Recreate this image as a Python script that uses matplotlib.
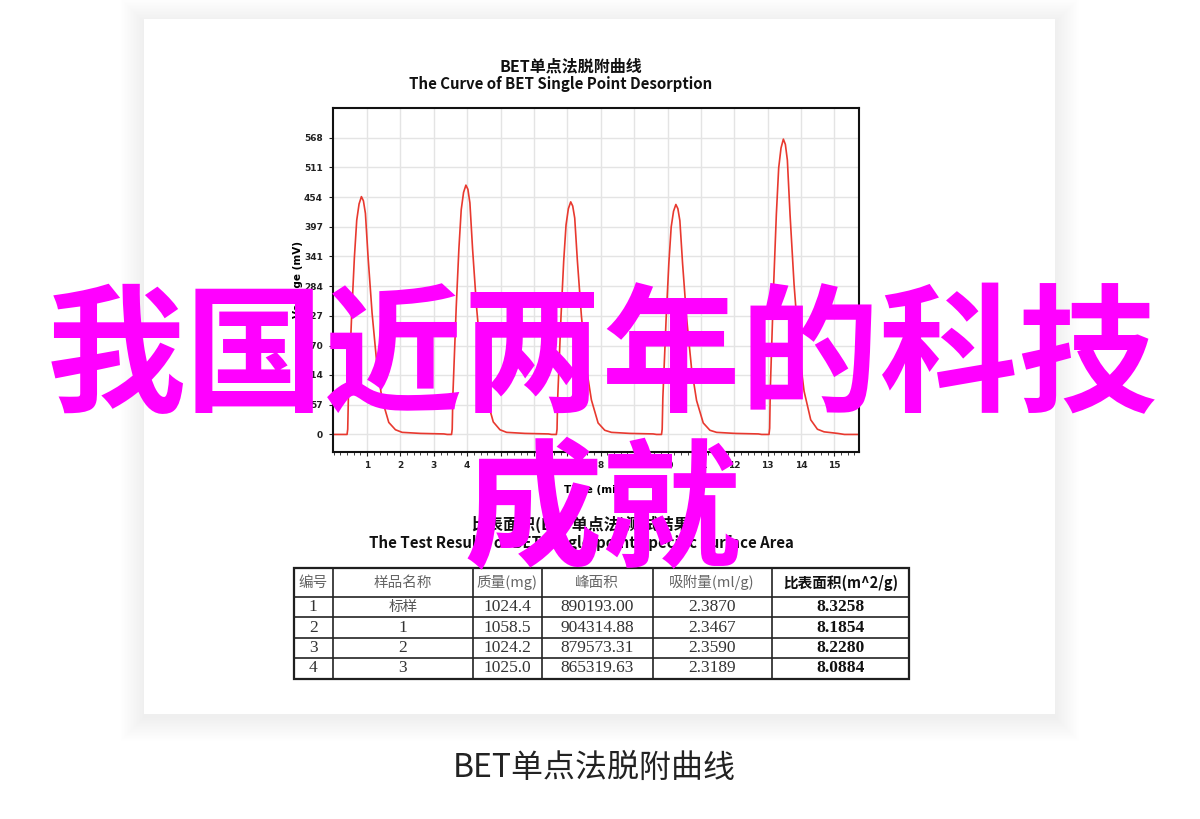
import matplotlib.pyplot as plt
from matplotlib.patches import Rectangle
from matplotlib.ticker import MultipleLocator

plt.rcParams['font.family'] = ['Noto Sans CJK SC', 'DejaVu Sans']

# BET desorption trace (time in min, signal in mV)
time_min = [
    -0.03, 0.40, 0.42, 0.44, 0.54, 0.62, 0.69, 0.76, 0.83, 0.89, 0.95, 1.03, 1.15, 1.30, 1.45, 1.65, 1.85, 2.05, 2.60, 3.30, 3.40,
    3.53, 3.55, 3.57, 3.67, 3.75, 3.82, 3.89, 3.96, 4.02, 4.08, 4.16, 4.28, 4.43, 4.58, 4.78, 4.98, 5.18, 5.73, 6.43, 6.53,
    6.67, 6.69, 6.71, 6.81, 6.89, 6.96, 7.03, 7.10, 7.16, 7.22, 7.30, 7.42, 7.57, 7.72, 7.92, 8.12, 8.32, 8.87, 9.57, 9.67,
    9.82, 9.84, 9.86, 9.96, 10.04, 10.11, 10.18, 10.25, 10.31, 10.37, 10.45, 10.57, 10.72, 10.87, 11.07, 11.27, 11.47, 12.02,
    12.72, 12.82,
    13.04, 13.06, 13.08, 13.18, 13.26, 13.33, 13.40, 13.47, 13.53, 13.59, 13.67, 13.79, 13.94, 14.09, 14.29, 14.49, 14.69,
    15.10, 15.30, 15.73,
]
voltage_mv = [
    0, 0, 10, 72, 232, 339, 410, 441, 455, 447, 423, 339, 232, 130, 67, 23, 9, 4, 2, 1, 0,
    0, 10, 75, 243, 355, 430, 463, 477, 469, 443, 355, 243, 136, 70, 24, 9, 4, 2, 1, 0,
    0, 10, 70, 227, 332, 401, 432, 445, 437, 414, 332, 227, 127, 66, 22, 8, 4, 2, 1, 0,
    0, 10, 70, 224, 328, 397, 427, 440, 432, 409, 328, 224, 126, 65, 22, 8, 4, 2,
    1, 0,
    0, 12, 89, 288, 421, 510, 548, 565, 555, 525, 421, 288, 161, 83, 28, 10, 5,
    2, 0, 0,
]
y_ticks = [0, 57, 114, 170, 227, 284, 341, 397, 454, 511, 568]
x_ticks = list(range(1, 16))

table_header = ['编号', '样品名称', '质量(mg)', '峰面积', '吸附量(ml/g)', '比表面积(m^2/g)']
sample_no = ['1', '2', '3', '4']
sample_name = ['标样', '1', '2', '3']
mass_mg = ['1024.4', '1058.5', '1024.2', '1025.0']
peak_area = ['890193.00', '904314.88', '879573.31', '865319.63']
adsorption = ['2.3870', '2.3467', '2.3590', '2.3189']
surface_area = ['8.3258', '8.1854', '8.2280', '8.0884']

W, H = 1200, 819
fig = plt.figure(figsize=(12, 8.19), dpi=100)

# background layer in pixel coordinates
bg = fig.add_axes([0, 0, 1, 1], zorder=0)
bg.set_xlim(0, W)
bg.set_ylim(H, 0)
bg.axis('off')

# soft shadow around the white card
for i in range(16):
    pad = 1 + i * 1.5
    bg.add_patch(Rectangle((144 - pad, 19 - pad + 3), 911 + 2 * pad, 695 + 2 * pad,
                           facecolor='black', alpha=0.004, lw=0))
bg.add_patch(Rectangle((144, 19), 911, 695, facecolor='white', lw=0))
bg.add_patch(Rectangle((417, 742), 346, 54, facecolor='white', lw=0))
bg.text(594, 768, 'BET单点法脱附曲线', fontsize=23, color='#222222', ha='center', va='center')

# chart titles
bg.text(571, 66, 'BET单点法脱附曲线', fontsize=11.5, fontweight='bold', ha='center', va='center', color='#111111')
bg.text(561, 84, 'The Curve of BET Single Point Desorption', fontsize=10.8, fontweight='bold',
        ha='center', va='center', color='#111111')
bg.text(580, 524, '比表面积(BET单点法)测试结果', fontsize=11.5, fontweight='bold', ha='center', va='center',
        color='#111111')
bg.text(581, 543, 'The Test Results of BET Single-point Specific Surface Area', fontsize=10.8, fontweight='bold',
        ha='center', va='center', color='#111111')

# results table
col_x = [294, 332.5, 473, 541.6, 652.5, 771.7, 909]
row_y = [568, 597, 617, 638, 658, 679]
for y in row_y:
    bg.plot([col_x[0], col_x[-1]], [y, y], color='#222222', lw=1.2)
for x in col_x:
    bg.plot([x, x], [row_y[0], row_y[-1]], color='#222222', lw=1.2)
bg.add_patch(Rectangle((col_x[0], row_y[0]), col_x[-1] - col_x[0], row_y[-1] - row_y[0],
                       fill=False, edgecolor='#111111', lw=1.6))

for j, label in enumerate(table_header):
    cx = (col_x[j] + col_x[j + 1]) / 2
    cy = (row_y[0] + row_y[1]) / 2
    if j == 5:
        bg.text(cx, cy, label, fontsize=10.5, fontweight='bold', color='#111111', ha='center', va='center')
    else:
        bg.text(cx, cy, label, fontsize=10.5, color='#666666', ha='center', va='center')

columns = [sample_no, sample_name, mass_mg, peak_area, adsorption, surface_area]
for j, col in enumerate(columns):
    cx = (col_x[j] + col_x[j + 1]) / 2
    for i, val in enumerate(col):
        cy = (row_y[i + 1] + row_y[i + 2]) / 2
        if j == 1 and i == 0:
            bg.text(cx, cy, val, fontsize=10.5, color='#555555', ha='center', va='center')
        elif j == 5:
            bg.text(cx, cy, val, fontsize=12.5, fontweight='bold', color='#111111', ha='center', va='center',
                    family='Liberation Serif')
        else:
            bg.text(cx, cy, val, fontsize=12.5, color='#333333', ha='center', va='center',
                    family='Liberation Serif')

# the desorption curve
left, right, top, bottom = 332.7, 858.8, 108.3, 451.7
ax = fig.add_axes([left / W, 1 - bottom / H, (right - left) / W, (bottom - top) / H], zorder=1)
ax.plot(time_min, voltage_mv, color='#e8392f', lw=1.2)
ax.set_xlim(-0.03, 15.73)
ax.set_ylim(-33, 624)
ax.set_xticks(x_ticks)
ax.set_yticks(y_ticks)
ax.xaxis.set_minor_locator(MultipleLocator(0.2))
ax.grid(True, color='#e4e4e4', lw=1.0)
ax.set_axisbelow(True)
for s in ax.spines.values():
    s.set_linewidth(1.5)
    s.set_color('#111111')
ax.tick_params(axis='both', which='major', labelsize=6.5, length=3, width=0.8, colors='#222222', pad=4)
ax.tick_params(axis='x', which='minor', length=2, width=0.6, colors='#222222')
for lab in ax.get_xticklabels() + ax.get_yticklabels():
    lab.set_fontweight('bold')
    lab.set_family('DejaVu Sans')
ax.set_ylabel('Voltage (mV)', fontsize=7.5, fontweight='bold', family='DejaVu Sans')
ax.yaxis.set_label_coords((303 - left) / (right - left), 0.5)
ax.set_xlabel('Time (min)', fontsize=7.5, fontweight='bold', family='DejaVu Sans')
ax.xaxis.set_label_coords(0.5, (bottom - 485) / (bottom - top))

# magenta headline over everything
fg = fig.add_axes([0, 0, 1, 1], zorder=3)
fg.set_xlim(0, W)
fg.set_ylim(H, 0)
fg.axis('off')
fg.patch.set_alpha(0)
fg.text(602, 361, '我国近两年的科技', fontsize=100, fontweight='bold', color='#ff00ff', ha='center', va='center')
fg.text(602, 516, '成就', fontsize=100, fontweight='bold', color='#ff00ff', ha='center', va='center')

fig.savefig('out.png', dpi=100)
plt.close(fig)
